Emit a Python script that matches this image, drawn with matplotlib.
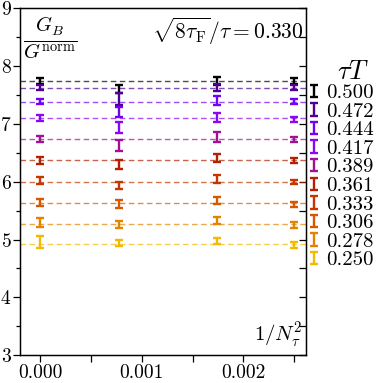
import numpy as np
import matplotlib
matplotlib.use("Agg")
import matplotlib.pyplot as plt
from matplotlib.ticker import MultipleLocator, FormatStrFormatter, NullFormatter
from matplotlib.legend_handler import HandlerErrorbar
from matplotlib.container import ErrorbarContainer

plt.rcParams['font.family'] = ['cmr10']
plt.rcParams['mathtext.fontset'] = 'cm'
plt.rcParams['axes.formatter.use_mathtext'] = True

# data
tauT = ["0.500", "0.472", "0.444", "0.417", "0.389", "0.361", "0.333", "0.306", "0.278", "0.250"]
x_vals = [0.0, 1/36**2, 1/24**2, 1/20**2]
# continuum (constant fit) values
cont = [7.73, 7.62, 7.38, 7.09, 6.74, 6.38, 6.00, 5.63, 5.27, 4.93]
# y[tauT][x]
y_vals = [
    [7.73, 7.60, 7.74, 7.73],
    [7.62, 7.42, 7.62, 7.62],
    [7.38, 7.20, 7.40, 7.38],
    [7.09, 6.94, 7.11, 7.07],
    [6.74, 6.62, 6.77, 6.73],
    [6.37, 6.29, 6.41, 6.36],
    [6.01, 5.93, 6.04, 5.99],
    [5.64, 5.61, 5.67, 5.61],
    [5.29, 5.26, 5.32, 5.25],
    [4.96, 4.94, 4.97, 4.90],
]
y_errs = [
    [0.05, 0.065, 0.07, 0.05],
    [0.04, 0.10, 0.06, 0.04],
    [0.05, 0.09, 0.08, 0.04],
    [0.05, 0.095, 0.08, 0.04],
    [0.05, 0.09, 0.08, 0.04],
    [0.06, 0.08, 0.07, 0.04],
    [0.06, 0.066, 0.065, 0.04],
    [0.06, 0.066, 0.06, 0.045],
    [0.08, 0.057, 0.06, 0.05],
    [0.10, 0.05, 0.055, 0.05],
]

fig = plt.figure(figsize=(3.83, 3.83), dpi=100)
ax = fig.add_axes([0.052, 0.072, 0.748, 0.908])
cmap = plt.get_cmap('gnuplot')

for i, lab in enumerate(tauT):
    c = cmap(i / 10)
    ax.axhline(cont[i], color=c, ls=(0, (4, 2.5)), lw=1.0, alpha=0.7, zorder=1)
    ax.errorbar(x_vals, y_vals[i], yerr=y_errs[i], fmt='none', ecolor=c,
                elinewidth=1.7, capsize=3, capthick=1.7, label=lab, zorder=3)

ax.set_xlim(-0.0002, 0.00262)
ax.set_ylim(3, 9)
ax.xaxis.set_major_locator(MultipleLocator(0.001))
ax.xaxis.set_minor_locator(MultipleLocator(0.0005))
ax.xaxis.set_major_formatter(FormatStrFormatter('%.3f'))
ax.yaxis.set_major_locator(MultipleLocator(1))
ax.yaxis.set_minor_locator(MultipleLocator(0.5))
ax.tick_params(axis='both', which='major', labelsize=14, length=5, width=0.9, direction='out')
ax.tick_params(axis='x', which='minor', length=5, width=0.9, direction='out')
ax.tick_params(axis='y', which='minor', length=3, width=0.9, direction='out')
ax.tick_params(axis='y', pad=1)
ax.tick_params(axis='x', pad=1)
for s in ax.spines.values():
    s.set_linewidth(1.0)

# inward ticks on right side
axr = ax.twinx()
axr.set_ylim(3, 9)
axr.yaxis.set_major_locator(MultipleLocator(1))
axr.yaxis.set_minor_locator(MultipleLocator(0.5))
axr.yaxis.set_major_formatter(NullFormatter())
axr.tick_params(axis='y', which='both', direction='in', length=5, width=0.9)
axr.set_zorder(0)
ax.set_zorder(1)
ax.patch.set_visible(False)

ax.text(0.012, 0.978, r'$\frac{G_B}{G^\mathrm{norm}}$', transform=ax.transAxes,
        ha='left', va='top', fontsize=21)
ax.text(0.99, 0.978, r'$\sqrt{8\tau_\mathrm{F}}/\tau = 0.330$', transform=ax.transAxes,
        ha='right', va='top', fontsize=15.5)
ax.text(0.985, 0.015, r'$1/N_\tau^2$', transform=ax.transAxes,
        ha='right', va='bottom', fontsize=15)

leg = ax.legend(title=r'$\quad\tau T$', loc='upper left', bbox_to_anchor=(1.01, 0.85),
                frameon=False, fontsize=15, title_fontsize=19,
                handlelength=0.5, handletextpad=0.3, labelspacing=0.0,
                borderaxespad=0.0, borderpad=0.0,
                handler_map={ErrorbarContainer: HandlerErrorbar(yerr_size=0.3)})

fig.savefig('out.png', dpi=100)
